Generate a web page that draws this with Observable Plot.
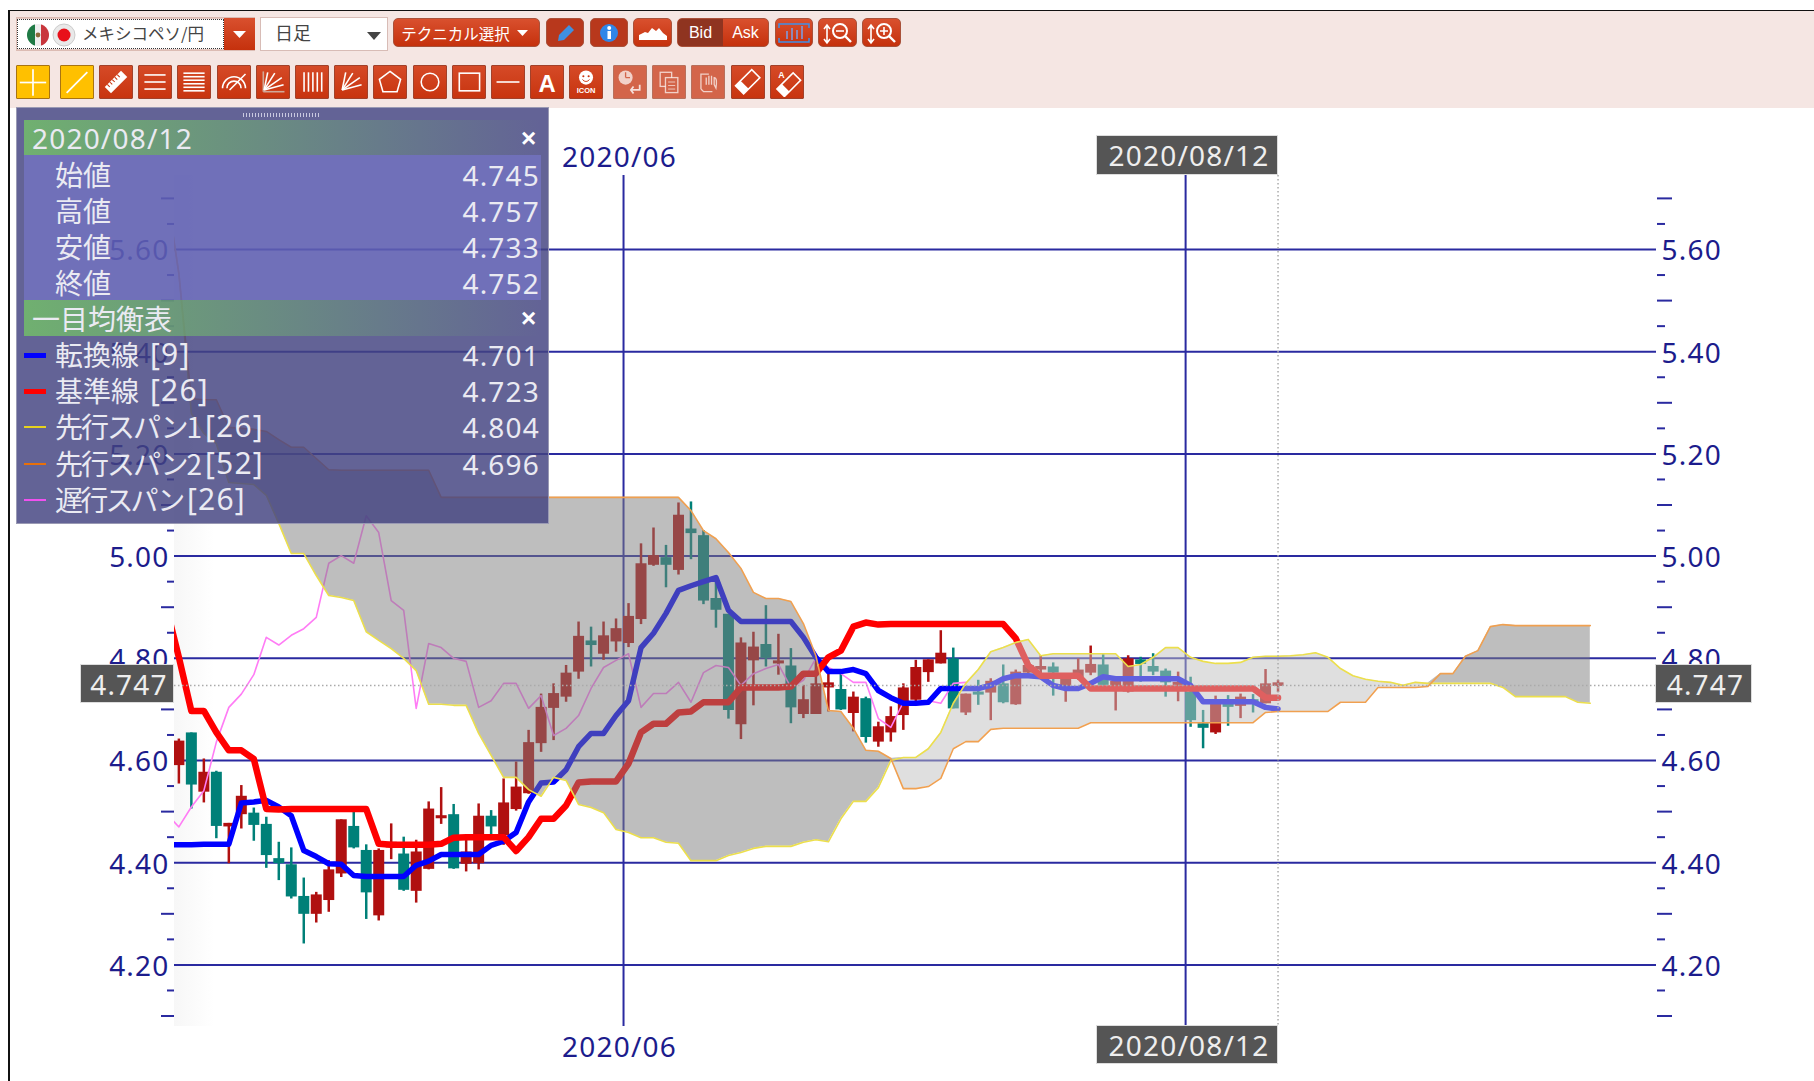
<!DOCTYPE html>
<html lang="ja"><head><meta charset="utf-8">
<script src="https://cdn.jsdelivr.net/npm/d3@7"></script>
<script src="https://cdn.jsdelivr.net/npm/@observablehq/plot@0.6"></script>
<style>
html,body{margin:0;padding:0;background:#fff;width:1814px;height:1081px;overflow:hidden}
body{position:relative;font-family:"Noto Sans","Noto Sans CJK JP",sans-serif}
#chart,#fade,#bar,.box,.btn,#panel,.tag,#edgeL,#edgeT{position:absolute}
#chart{left:0;top:0;z-index:2}
#fade{left:174px;top:175px;width:40px;height:851px;background:linear-gradient(90deg,#f7f7f7,#fff);z-index:1}
#bar{left:9px;top:11px;width:1805px;height:97px;background:#f5e6e3;z-index:3}
#edgeL{left:8px;top:10px;width:1.5px;height:1071px;background:#111;z-index:6}
#edgeT{left:8px;top:9.5px;width:1806px;height:1.5px;background:#111;z-index:6}
.box{z-index:4;box-sizing:border-box}
.btn{z-index:4;box-sizing:border-box;background:linear-gradient(#d9502e,#c5310d);border:1px solid #a9513a;border-radius:5px;color:#fff;display:flex;align-items:center;justify-content:center}
.sq{border-radius:1px;border:1.5px solid #a2412a;background:linear-gradient(#d54a27,#c8340f)}
.gold{background:#ffc000;border:1.5px solid #a87412}
.dim{background:#d3654a;border-color:#b8705c}
#panel{left:16px;top:107px;width:533px;height:417px;background:rgba(67,67,129,.83);border:1px solid #9a9ab4;box-sizing:border-box;z-index:7;color:#eaeaf2;font-size:27px}
#panel div{position:absolute;white-space:nowrap}
.num{letter-spacing:1.2px;font-family:"Noto Sans",sans-serif;font-size:28px}
.par{letter-spacing:1.2px;font-family:"Noto Sans",sans-serif;font-size:30px}
.jp{font-family:"Noto Sans CJK JP",sans-serif;font-size:28px}
.tag{background:#555;color:#eee;z-index:8;font:28px "Noto Sans",sans-serif;letter-spacing:1.2px;display:flex;align-items:center;justify-content:center;box-sizing:border-box;border:1px solid #ddd}
#chart text{letter-spacing:1.2px}
</style></head><body>
<div id="fade"></div><div id="bar"></div><div id="edgeL"></div><div id="edgeT"></div>
<div id="chart"></div>
<div id="panel"></div>
<script>
const open=[
4.590,4.654,4.538,4.577,4.470,4.494,4.497,4.475,4.408,4.396,
4.334,4.299,4.326,4.378,4.471,4.424,4.296,4.429,4.417,4.344,
4.387,4.486,4.494,4.397,4.398,4.491,4.453,4.504,4.535,4.633,
4.702,4.724,4.773,4.834,4.808,4.832,4.829,4.876,4.982,4.997,
4.972,5.053,5.040,4.917,4.886,4.670,4.795,4.827,4.789,4.785,
4.690,4.690,4.742,4.739,4.692,4.721,4.636,4.654,4.688,4.718,
4.772,4.789,4.799,4.693,4.734,4.732,4.750,4.709,4.771,4.777,
4.783,4.742,4.760,4.771,4.787,4.737,4.734,4.797,4.784,4.775,
4.747,4.734,4.672,4.654,4.714,4.706,4.719,4.711,4.745];
const high=[
4.642,4.654,4.603,4.579,4.477,4.551,4.507,4.489,4.440,4.429,
4.370,4.342,4.404,4.484,4.499,4.435,4.427,4.476,4.450,4.444,
4.519,4.547,4.514,4.444,4.515,4.502,4.564,4.597,4.659,4.730,
4.750,4.786,4.871,4.861,4.871,4.877,4.907,5.024,5.055,5.021,
5.104,5.106,5.050,4.959,4.886,4.840,4.851,4.903,4.847,4.819,
4.747,4.796,4.770,4.776,4.734,4.724,4.675,4.705,4.750,4.796,
4.797,4.854,4.820,4.730,4.757,4.760,4.787,4.777,4.795,4.805,
4.791,4.768,4.799,4.824,4.807,4.755,4.805,4.802,4.809,4.779,
4.773,4.763,4.698,4.726,4.727,4.730,4.729,4.778,4.757];
const low=[
4.554,4.505,4.517,4.447,4.398,4.466,4.442,4.389,4.365,4.329,
4.241,4.282,4.303,4.371,4.427,4.289,4.286,4.406,4.344,4.321,
4.386,4.475,4.387,4.382,4.386,4.453,4.434,4.501,4.534,4.616,
4.639,4.714,4.759,4.783,4.796,4.812,4.821,4.866,4.980,4.938,
4.963,4.993,4.905,4.859,4.681,4.641,4.707,4.783,4.767,4.672,
4.682,4.690,4.695,4.698,4.656,4.634,4.626,4.636,4.659,4.710,
4.753,4.789,4.701,4.688,4.708,4.678,4.711,4.708,4.766,4.758,
4.726,4.714,4.757,4.766,4.745,4.697,4.732,4.753,4.766,4.724,
4.715,4.665,4.623,4.651,4.667,4.682,4.693,4.711,4.733];
const close=[
4.638,4.552,4.577,4.471,4.477,4.530,4.473,4.414,4.398,4.333,
4.299,4.337,4.386,4.484,4.429,4.341,4.424,4.440,4.346,4.421,
4.505,4.492,4.388,4.421,4.491,4.470,4.517,4.548,4.635,4.704,
4.731,4.771,4.843,4.825,4.844,4.858,4.882,4.985,5.001,4.982,
5.080,5.044,4.912,4.894,4.698,4.830,4.822,4.800,4.795,4.703,
4.719,4.750,4.752,4.699,4.724,4.645,4.666,4.686,4.742,4.782,
4.797,4.810,4.701,4.730,4.728,4.755,4.713,4.773,4.786,4.784,
4.771,4.768,4.777,4.788,4.747,4.755,4.799,4.788,4.773,4.752,
4.753,4.678,4.663,4.711,4.704,4.724,4.711,4.750,4.752];
// the indicator lists start one session before the first visible candle
const tenkan=[
4.435,4.435,4.435,4.436,4.436,4.436,4.517,4.519,4.522,4.509,
4.492,4.424,4.412,4.398,4.397,4.375,4.373,4.373,4.373,4.373,
4.395,4.403,4.416,4.416,4.416,4.416,4.434,4.442,4.459,4.519,
4.556,4.558,4.582,4.627,4.653,4.653,4.688,4.717,4.821,4.849,
4.888,4.933,4.942,4.950,4.958,4.894,4.872,4.872,4.872,4.872,
4.872,4.841,4.802,4.774,4.774,4.778,4.770,4.737,4.723,4.712,
4.712,4.714,4.741,4.741,4.741,4.741,4.747,4.760,4.766,4.766,
4.764,4.747,4.741,4.741,4.751,4.764,4.760,4.760,4.760,4.760,
4.760,4.760,4.747,4.715,4.715,4.715,4.715,4.715,4.704,4.701];
const kijun=[
4.900,4.802,4.697,4.697,4.655,4.620,4.620,4.603,4.505,4.504,
4.505,4.505,4.505,4.505,4.505,4.505,4.505,4.437,4.435,4.435,
4.435,4.435,4.437,4.449,4.450,4.450,4.450,4.450,4.423,4.450,
4.486,4.486,4.512,4.557,4.559,4.559,4.559,4.594,4.655,4.672,
4.672,4.694,4.696,4.714,4.714,4.714,4.743,4.743,4.743,4.743,
4.745,4.770,4.770,4.802,4.815,4.862,4.870,4.866,4.867,4.867,
4.867,4.867,4.867,4.867,4.867,4.867,4.867,4.867,4.839,4.786,
4.766,4.766,4.766,4.766,4.741,4.741,4.741,4.741,4.741,4.741,
4.741,4.741,4.741,4.741,4.741,4.741,4.741,4.741,4.723,4.723];
const span1=[
5.715,5.553,5.279,5.240,5.220,5.144,5.142,5.140,5.119,5.064,
5.005,5.005,4.962,4.923,4.919,4.913,4.852,4.835,4.819,4.800,
4.776,4.710,4.710,4.708,4.708,4.653,4.610,4.567,4.567,4.543,
4.530,4.567,4.561,4.514,4.508,4.498,4.465,4.459,4.449,4.449,
4.440,4.438,4.404,4.404,4.404,4.414,4.420,4.428,4.432,4.432,
4.432,4.440,4.445,4.441,4.486,4.520,4.520,4.547,4.600,4.606,
4.606,4.623,4.655,4.712,4.751,4.778,4.813,4.821,4.831,4.837,
4.805,4.809,4.809,4.809,4.809,4.809,4.809,4.784,4.788,4.802,
4.821,4.821,4.802,4.794,4.790,4.790,4.792,4.802,4.804,4.804,
4.805,4.807,4.811,4.802,4.780,4.766,4.759,4.755,4.753,4.747,
4.753,4.751,4.751,4.751,4.751,4.751,4.751,4.743,4.725,4.725,
4.725,4.725,4.725,4.714,4.712];
const span2=[
5.715,5.553,5.308,5.306,5.306,5.252,5.250,5.248,5.244,5.228,
5.213,5.213,5.191,5.169,5.168,5.168,5.168,5.168,5.168,5.168,
5.168,5.168,5.115,5.115,5.115,5.115,5.115,5.115,5.115,5.115,
5.115,5.115,5.115,5.115,5.115,5.115,5.115,5.115,5.115,5.115,
5.115,5.115,5.089,5.050,5.034,5.007,4.976,4.929,4.917,4.917,
4.911,4.868,4.805,4.698,4.696,4.663,4.620,4.618,4.604,4.545,
4.545,4.549,4.565,4.623,4.637,4.637,4.661,4.663,4.663,4.663,
4.663,4.663,4.663,4.663,4.674,4.674,4.674,4.674,4.674,4.674,
4.674,4.674,4.674,4.674,4.674,4.674,4.674,4.674,4.694,4.696,
4.696,4.696,4.696,4.696,4.714,4.714,4.714,4.743,4.743,4.743,
4.743,4.745,4.770,4.770,4.804,4.815,4.862,4.866,4.864,4.864,
4.864,4.864,4.864,4.864,4.864];
const chikou=[
4.496,4.470,4.509,4.541,4.636,4.704,4.730,4.768,4.841,4.826,
4.845,4.858,4.880,4.986,5.001,4.986,5.079,5.046,4.913,4.894,
4.702,4.829,4.821,4.800,4.794,4.704,4.717,4.751,4.751,4.702,
4.727,4.649,4.663,4.688,4.741,4.782,4.796,4.809,4.704,4.731,
4.731,4.753,4.714,4.772,4.786,4.782,4.747,4.770,4.780,4.788,
4.743,4.757,4.800,4.782,4.770,4.753,4.753,4.682,4.665,4.714,
4.708,4.717,4.712,4.751,4.753];
const gridTicks=[4.2,4.4,4.6,4.8,5.0,5.2,5.4,5.6];
const longTicks=[4.1,4.3,4.5,4.7,4.9,5.1,5.3,5.5,5.7];
const shortTicks=[4.15,4.25,4.35,4.45,4.55,4.65,4.75,4.85,4.95,5.05,5.15,5.25,5.35,5.45,5.55,5.65];
const monthIndex=[35.6,80.6];
const monthLabel=["2020/06"];
const lastIndex=88, currentPrice=4.747, selectedDate="2020/08/12";
const priceLabels=["始値","高値","安値","終値"], priceValues=["4.745","4.757","4.733","4.752"];
const lineNames=["転換線","基準線","先行スパン1","先行スパン2","遅行スパン"];
const lineParams=["[9]","[26]","[26]","[52]","[26]"];
const lineValues=["4.701","4.723","4.804","4.696",""];
const lineColors=["#0000ff","#ff0000","#e6d21e","#e8700a","#f050f0"];

const bars=open.map((o,i)=>({i,open:o,high:high[i],low:low[i],close:close[i]}));
const up=bars.filter(d=>d.close>=d.open), down=bars.filter(d=>d.close<d.open);
const series=a=>a.map((v,k)=>({i:k-1,v}));
const cloud=span1.map((a,k)=>({i:k-1,a,b:span2[k],top:Math.max(a,span2[k])}));
const RED="#b01010",TEAL="#008078",NAVY="#1c1c8c",GRID="#2a2aa0";
const FONT='"Noto Sans",sans-serif';
const axisOpts={label:null,strokeWidth:2,stroke:GRID,fill:"none",tickFormat:()=>""};
const labelOpts={label:null,tickSize:0,tickPadding:5,fontSize:28,color:NAVY,dy:2,tickFormat:d=>d.toFixed(2)};

const svg=Plot.plot({
  width:1814,height:1081,marginLeft:174,marginRight:158,marginTop:175,marginBottom:55,
  style:{background:"transparent",fontFamily:FONT},
  x:{domain:[-0.35,118.3],axis:null},
  y:{domain:[4.0795,5.7448]},
  marks:[
    Plot.ruleY(gridTicks,{stroke:GRID,strokeWidth:2}),
    Plot.ruleX(monthIndex,{stroke:GRID,strokeWidth:2}),
    Plot.ruleX(up,{x:"i",y1:"low",y2:"high",stroke:RED,strokeWidth:2.5,clip:true}),
    Plot.ruleX(down,{x:"i",y1:"low",y2:"high",stroke:TEAL,strokeWidth:2.5,clip:true}),
    Plot.ruleX(up,{x:"i",y1:"open",y2:"close",stroke:RED,strokeWidth:11,clip:true}),
    Plot.ruleX(down,{x:"i",y1:"open",y2:"close",stroke:TEAL,strokeWidth:11,clip:true}),
    Plot.line(series(chikou),{x:"i",y:"v",stroke:"#ff7cf5",strokeWidth:1.6,clip:true}),
    Plot.line(series(tenkan),{x:"i",y:"v",stroke:"#0000ff",strokeWidth:5.5,clip:true}),
    Plot.line(series(kijun),{x:"i",y:"v",stroke:"#ff0000",strokeWidth:6.5,clip:true}),
    Plot.areaY(cloud,{x:"i",y1:"a",y2:"top",fill:"#7d7d7d",fillOpacity:.5,clip:true}),
    Plot.areaY(cloud,{x:"i",y1:"b",y2:"top",fill:"#c0c0c0",fillOpacity:.5,clip:true}),
    Plot.line(series(span1),{x:"i",y:"v",stroke:"#ecdf4c",strokeWidth:1.6,clip:true}),
    Plot.line(series(span2),{x:"i",y:"v",stroke:"#f0a050",strokeWidth:1.6,clip:true}),
    Plot.ruleY([currentPrice],{stroke:"#aaa",strokeWidth:1.5,strokeDasharray:"1.5 2.5"}),
    Plot.ruleX([lastIndex],{stroke:"#aaa",strokeWidth:1.5,strokeDasharray:"1.5 2.5"}),
    Plot.axisY(gridTicks,{anchor:"left",...labelOpts}),
    Plot.axisY(gridTicks,{anchor:"right",...labelOpts}),
    Plot.axisY(longTicks,{anchor:"left",tickSize:13,...axisOpts}),
    Plot.axisY(shortTicks,{anchor:"left",tickSize:7,...axisOpts}),
    Plot.axisY(longTicks,{anchor:"right",tickSize:15,...axisOpts}),
    Plot.axisY(shortTicks,{anchor:"right",tickSize:8,...axisOpts}),
    Plot.text(monthLabel,{x:()=>monthIndex[0],text:d=>d,frameAnchor:"top",lineAnchor:"bottom",dy:-9,dx:-4,fontSize:28,fill:NAVY}),
    Plot.text(monthLabel,{x:()=>monthIndex[0],text:d=>d,frameAnchor:"bottom",lineAnchor:"top",dy:11,dx:-4,fontSize:28,fill:NAVY})
  ]
});
document.getElementById("chart").append(svg);

/* value tags */
function tag(text,l,t,w,h){const e=document.createElement("div");e.className="tag";e.textContent=text;
  e.style.cssText=`left:${l}px;top:${t}px;width:${w}px;height:${h}px;padding-left:4px`;document.body.append(e);}
tag(selectedDate,1096,135,182,40);tag(selectedDate,1096,1025,182,39);
tag(String(currentPrice),80,664,94,39);tag(String(currentPrice),1655,664,97,39);

/* toolbar */
const W='stroke="#fff" fill="none" stroke-width="1.8"';
function add(cls,l,t,w,h,html,style=""){const e=document.createElement("div");e.className=cls;
  e.style.cssText=`left:${l}px;top:${t}px;width:${w}px;height:${h}px;${style}`;e.innerHTML=html;document.body.append(e);return e;}
const ic=(inner,s=34)=>`<svg width="${s}" height="${s}" viewBox="0 0 34 34">${inner}</svg>`;
const line=(x1,y1,x2,y2,c="#fff",sw=1.8)=>`<line x1="${x1}" y1="${y1}" x2="${x2}" y2="${y2}" stroke="${c}" stroke-width="${sw}"/>`;
add("box",16,17,239,34,"","background:#e3c8c2;border:1px solid #dcbcb4");
add("box",17,19,207,30,`<svg width="207" height="30" style="position:absolute;left:0;top:0">
 <defs><clipPath id="mx"><circle cx="20" cy="15" r="11"/></clipPath></defs>
 <g clip-path="url(#mx)"><rect x="9" y="4" width="8" height="22" fill="#1f7a45"/><rect x="17" y="4" width="6" height="22" fill="#eee"/><rect x="23" y="4" width="8" height="22" fill="#c8363c"/><circle cx="20" cy="15" r="2.4" fill="#8a6a3a"/></g>
 <circle cx="46" cy="15" r="11" fill="#e9e9e9" stroke="#ccc"/><circle cx="46" cy="15" r="6.5" fill="#e8101a"/></svg>
 <span style="position:absolute;left:64px;top:1px;font:16.5px 'Noto Sans CJK JP';color:#444;white-space:nowrap">メキシコペソ/円</span>`,"background:#fff;border:1.5px dotted #333");
add("box",224,18,31,32,`<svg width="31" height="32"><path d="M9 13h13l-6.5 7z" fill="#fff"/></svg>`,"background:linear-gradient(#d9502e,#c5310d)");
add("box",260,17,128,34,`<span style="position:absolute;left:14px;top:1px;font:18px 'Noto Sans CJK JP';color:#444">日足</span><svg width="128" height="30" style="position:absolute;left:0;top:2px"><path d="M106 12h14l-7 8z" fill="#444"/></svg>`,"background:#fff;border:1.5px solid #d8bcb6");
add("btn",393,18,147,29,`<span style="font:15.5px 'Noto Sans CJK JP';white-space:nowrap">テクニカル選択</span><svg width="22" height="14"><path d="M7 4h11l-5.5 6z" fill="#fff"/></svg>`);
add("btn",546,18,38,29,`<svg width="26" height="24"><path d="M6 20l1-6L17 4l5 5-10 10z" fill="#4090e0"/></svg>`,"background:#b8381c");
add("btn",590,18,38,29,`<svg width="24" height="24"><circle cx="12" cy="12" r="9" fill="#2f86e8"/><rect x="10.5" y="10" width="3.5" height="8" fill="#fff"/><circle cx="12.2" cy="7" r="2" fill="#fff"/></svg>`,"background:#b8381c");
add("btn",633,18,39,29,`<svg width="30" height="18"><path d="M1 16V11l6-3 3 1 4-5 4 3 3-3 4 5 4 3v4z" fill="#fff"/></svg>`);
add("btn",677,18,92,29,`<span style="width:46px;height:100%;background:#8f3420;display:flex;align-items:center;justify-content:center;font:16px 'Liberation Sans';border-radius:4px 0 0 4px">Bid</span><span style="width:46px;height:100%;display:flex;align-items:center;justify-content:center;font:16px 'Liberation Sans'">Ask</span>`);
add("btn",775,18,38,29,`<svg width="34" height="24"><path d="M2 7V3h30v4M2 17v4h30v-4" stroke="#4090e8" fill="none" stroke-width="1.5"/><path d="M10 10v8M15 7v12M20 9v9M25 5v13" stroke="#7aa0e8" stroke-width="1.5"/></svg>`);
const zoomIc=(plus)=>`<svg width="34" height="26"><path d="M6 6v16M3 9l3-4 3 4M3 19l3 4 3-4" stroke="#fff" fill="none" stroke-width="1.6"/><circle cx="19" cy="11" r="7" stroke="#fff" fill="none" stroke-width="2"/><path d="M24 16l6 6" stroke="#fff" stroke-width="2.4"/><path d="M15 11h8${plus?"M19 7v8":""}" stroke="#fff" stroke-width="1.6"/></svg>`;
add("btn",818,18,39,29,zoomIc(false));
add("btn",862,18,39,29,zoomIc(true));

const rowX=[16,60,99,138,177,217,256,295,334,373,413,452,491,530,569,613,652,691,731,770];
const hl=y=>line(5,y,29,y);
const fan=`${line(7,26,11,6)}${line(7,26,19,7)}${line(7,26,27,12)}${line(7,26,29,20)}`;
const icons=[
 line(17,3,17,31)+line(3,17,31,17),
 line(6,28,28,6),
 `<g transform="rotate(-45 17 17)"><rect x="4" y="12" width="26" height="10" fill="#fff"/><path d="M8 12v4M12 12v4M16 12v4M20 12v4M24 12v4" stroke="#c8340f" stroke-width="1.2"/></g>`,
 hl(9)+hl(17)+hl(25),
 hl(7)+hl(11)+hl(15)+hl(19)+hl(23)+hl(27),
 `<g ${W}><path d="M4 24a13 13 0 0 1 26 0"/><path d="M9 24a8 8 0 0 1 16 0"/></g>`+line(12,26,30,8),
 line(6,5,6,28,"#d0a898")+line(6,28,30,28,"#d0a898")+fan,
 line(8,6,8,28)+line(13,6,13,28)+line(18,6,18,28)+line(23,6,23,28)+line(28,6,28,28),
 fan,
 `<path d="M17 5L29 14 25 28H9L5 14z" ${W}/>`,
 `<circle cx="17" cy="17" r="10" ${W}/>`,
 `<rect x="6" y="7" width="23" height="20" ${W}/>`,
 line(4,17,30,17),
 `<text x="17" y="28" text-anchor="middle" font-family="Liberation Sans" font-weight="700" font-size="27" fill="#fff">A</text>`,
 `<circle cx="17" cy="12" r="8" fill="#fff"/><circle cx="14" cy="10.5" r="1.2" fill="#c8340f"/><circle cx="20" cy="10.5" r="1.2" fill="#c8340f"/><path d="M13 14a4.5 4.5 0 0 0 8 0" stroke="#c8340f" fill="none"/><text x="17" y="30" text-anchor="middle" font-family="Liberation Sans" font-weight="700" font-size="8.5" fill="#fff">ICON</text>`,
 `<circle cx="12" cy="12" r="8" fill="#fff" fill-opacity=".7"/><path d="M12 12V6M12 12h5" stroke="#d3654a" stroke-width="1.5"/><path d="M28 20v6H18M21 22l-3 4 3 4" stroke="#fff" stroke-opacity=".8" fill="none" stroke-width="2"/>`,
 `<rect x="7" y="6" width="13" height="16" fill="none" stroke="#fff" stroke-opacity=".7" stroke-width="1.5"/><rect x="13" y="12" width="14" height="17" fill="#d3654a" stroke="#fff" stroke-opacity=".7" stroke-width="1.5"/><path d="M16 17h8M16 21h8M16 25h8" stroke="#fff" stroke-opacity=".7"/>`,
 `<path d="M9 25V8h9M22 28H12l-3-3M15 20V12M18 20V10M21 20V10M24 20V12c3 0 3 5 2 12z" stroke="#fff" stroke-opacity=".7" fill="none" stroke-width="1.5"/>`,
 `<g transform="rotate(-45 17 17)"><rect x="4" y="10" width="26" height="13" ${W}/><rect x="4" y="10" width="8" height="13" fill="#fff"/></g>`,
 `<g transform="rotate(-45 19 20)"><rect x="6" y="14" width="26" height="12" ${W}/><rect x="6" y="14" width="8" height="12" fill="#fff"/></g><text x="7" y="12" font-family="Liberation Sans" font-weight="700" font-size="10" fill="#fff">A</text>`
];
rowX.forEach((x,k)=>{
  const cls="btn sq"+(k<2?" gold":"")+((k>=15&&k<=17)?" dim":"");
  add(cls,x,65,34,34,ic(icons[k],k<2?33:30));
});

/* data-window panel */
const P=document.getElementById("panel");
const put=(cls,l,t,html,style="")=>{const e=document.createElement("div");e.className=cls;
  e.style.cssText=`left:${l-17}px;top:${t-108}px;${style}`;e.innerHTML=html;P.append(e);return e;};
put("",243,113,"","width:77px;height:4px;background:repeating-linear-gradient(90deg,#c8c8e0 0 1px,transparent 1px 3px)");
put("",24,120,"","width:517px;height:35px;background:linear-gradient(90deg,#70b070,rgba(112,176,112,0))");
put("",24,155,"","width:517px;height:145px;background:rgba(137,137,253,.35)");
put("",24,300,"","width:517px;height:36px;background:linear-gradient(90deg,#70b070,rgba(112,176,112,0))");
put("num",32,119,selectedDate);
put("jp",32,298,"一目均衡表");
put("",521,120,"×","font:700 26px 'Liberation Sans';line-height:36px;color:#fff");
put("",521,300,"×","font:700 26px 'Liberation Sans';line-height:36px;color:#fff");
const ys=[175,211,247,283], ys2=[355,391,427,464,500], parX=[150,150,205,205,187], nameSp=[0,0,-2,-2,-2.8];
const val=(y,v)=>{put("num",0,y-19,v,"left:auto;right:8px;top:"+(y-19-108)+"px");};
priceLabels.forEach((t,k)=>{put("jp",55,ys[k]-21,t);val(ys[k],priceValues[k]);});
lineNames.forEach((t,k)=>{
  put("",24,ys2[k]-(k<2?2.5:1),"",`width:22px;height:${k<2?5:2}px;background:${lineColors[k]}`);
  put("jp",55,ys2[k]-21,t,`letter-spacing:${nameSp[k]}px`);
  put("par",parX[k],ys2[k]-22,lineParams[k]);
  if(lineValues[k]) val(ys2[k],lineValues[k]);
});
</script>
</body></html>
